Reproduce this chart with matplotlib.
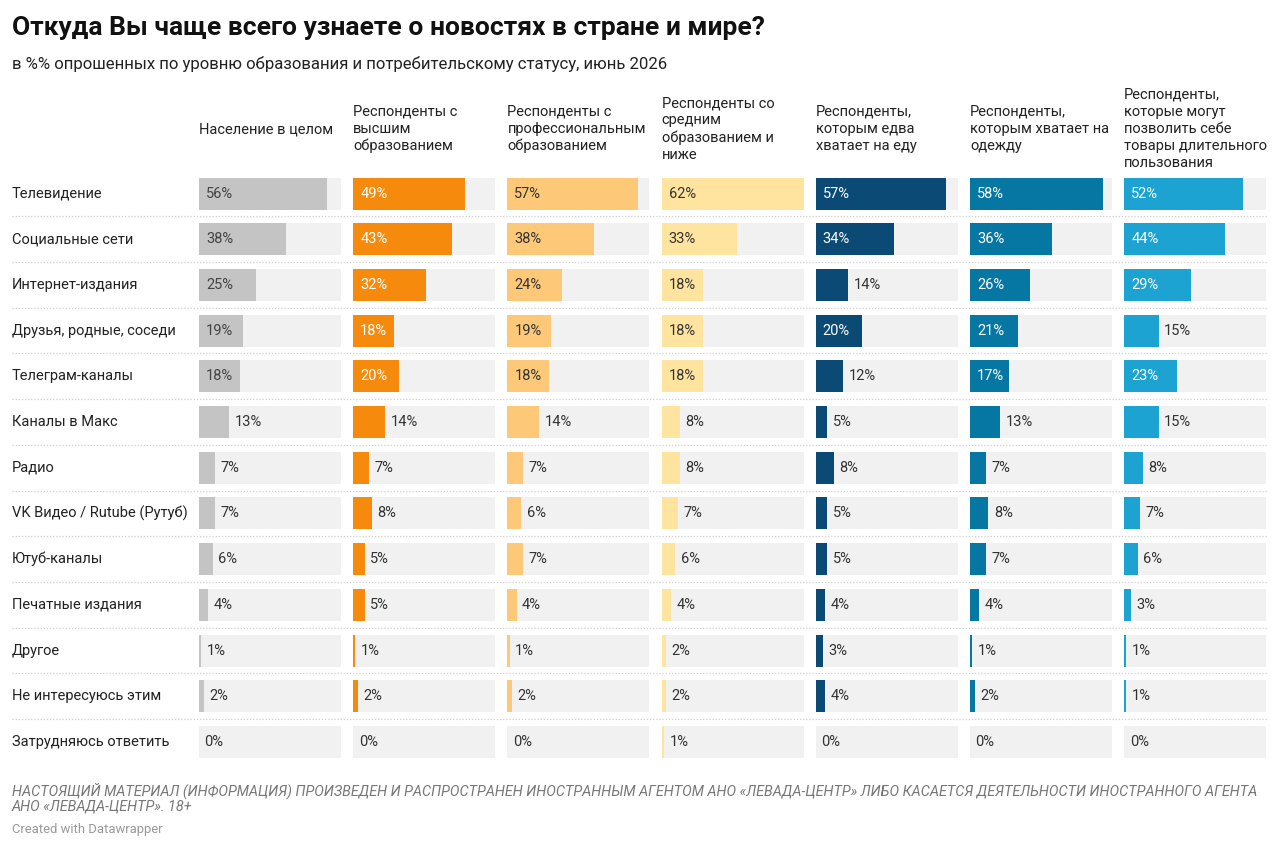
import numpy as np
import matplotlib
matplotlib.use("Agg")
import matplotlib.pyplot as plt

plt.rcParams["font.family"] = ["Roboto", "DejaVu Sans"]

# ---------------------------------------------------------
# DATA
# ---------------------------------------------------------
sources = [
    "Телевидение", "Социальные сети", "Интернет-издания",
    "Друзья, родные, соседи", "Телеграм-каналы", "Каналы в Макс",
    "Радио", "VK Видео / Rutube (Рутуб)", "Ютуб-каналы",
    "Печатные издания", "Другое", "Не интересуюсь этим",
    "Затрудняюсь ответить",
]

groups = [
    "Население в целом",
    "Респонденты с\nвысшим\nобразованием",
    "Респонденты с\nпрофессиональным\nобразованием",
    "Респонденты со\nсредним\nобразованием и\nниже",
    "Респонденты,\nкоторым едва\nхватает на еду",
    "Респонденты,\nкоторым хватает на\nодежду",
    "Респонденты,\nкоторые могут\nпозволить себе\nтовары длительного\nпользования",
]

population = [56, 38, 25, 19, 18, 13, 7, 7, 6, 4, 1, 2, 0]
higher_edu = [49, 43, 32, 18, 20, 14, 7, 8, 5, 5, 1, 2, 0]
prof_edu = [57, 38, 24, 19, 18, 14, 7, 6, 7, 4, 1, 2, 0]
secondary_edu = [62, 33, 18, 18, 18, 8, 8, 7, 6, 4, 2, 2, 1]
food_only = [57, 34, 14, 20, 12, 5, 8, 5, 5, 4, 3, 4, 0]
clothes = [58, 36, 26, 21, 17, 13, 7, 8, 7, 4, 1, 2, 0]
durables = [52, 44, 29, 15, 23, 15, 8, 7, 6, 3, 1, 1, 0]

series = [population, higher_edu, prof_edu, secondary_edu,
          food_only, clothes, durables]

colors = ["#c4c4c4", "#f68a0c", "#fdc979", "#fee49f",
          "#0a4a75", "#0677a3", "#1ca3d1"]
inside_text = ["#444444", "#ffffff", "#333333", "#333333",
               "#ffffff", "#ffffff", "#ffffff"]

MAX_VAL = 62
INSIDE_MIN = 16

# ---------------------------------------------------------
# LAYOUT (pixels of a 1280x850 canvas)
# ---------------------------------------------------------
W, H = 1280, 850
fig = plt.figure(figsize=(W / 100, H / 100), dpi=100)
fig.patch.set_facecolor("white")

n = len(sources)
row_top, row_bottom = 193.5, 742
pitch = (row_bottom - row_top) / (n - 1)
y_top = row_top - pitch / 2
y_bot = row_bottom + pitch / 2

col_x0 = 199
col_pitch = 154.2
col_w = 142


def fx(px):
    return px / W


def fy(py):
    return 1 - py / H


# background axes: separators and row labels
ax_bg = fig.add_axes([fx(12), fy(y_bot), fx(1267 - 12), (y_bot - y_top) / H])
ax_bg.set_xlim(0, 1)
ax_bg.set_ylim(n - 0.5, -0.5)
ax_bg.axis("off")
for i in range(n - 1):
    ax_bg.axhline(i + 0.5, color="#d0d0d0", linewidth=0.9,
                  linestyle=(0, (1, 1.5)))
for i, name in enumerate(sources):
    ax_bg.text(0, i, name, fontsize=10.5, color="#222222",
               va="center", ha="left")

bar_h = 32 / pitch
y = np.arange(n)

for c, values in enumerate(series):
    x0 = col_x0 + c * col_pitch
    ax = fig.add_axes([fx(x0), fy(y_bot), col_w / W, (y_bot - y_top) / H])
    ax.set_xlim(0, MAX_VAL)
    ax.set_ylim(n - 0.5, -0.5)
    ax.axis("off")

    ax.barh(y, [MAX_VAL] * n, height=bar_h, color="#f1f1f1", linewidth=0)
    ax.barh(y, values, height=bar_h, color=colors[c], linewidth=0)

    for i, v in enumerate(values):
        if v >= INSIDE_MIN:
            ax.annotate(f"{v}%", (0, i), xytext=(5, 0),
                        textcoords="offset points", va="center", ha="left",
                        fontsize=10.5, color=inside_text[c])
        else:
            ax.annotate(f"{v}%", (v, i), xytext=(4, 0),
                        textcoords="offset points", va="center", ha="left",
                        fontsize=10.5, color="#333333")

    fig.text(fx(x0), fy(129), groups[c], fontsize=10.5, color="#222222",
             va="center", ha="left", linespacing=1.28)

# ---------------------------------------------------------
# TITLES AND FOOTER
# ---------------------------------------------------------
fig.text(fx(12), fy(28), "Откуда Вы чаще всего узнаете о новостях в стране и мире?",
         fontsize=19, fontweight="bold", color="#111111", va="center")
fig.text(fx(12), fy(64),
         "в %% опрошенных по уровню образования и потребительскому статусу, июнь 2026",
         fontsize=12.1, color="#222222", va="center")

fig.text(fx(12), fy(798),
         "НАСТОЯЩИЙ МАТЕРИАЛ (ИНФОРМАЦИЯ) ПРОИЗВЕДЕН И РАСПРОСТРАНЕН ИНОСТРАННЫМ АГЕНТОМ "
         "АНО «ЛЕВАДА-ЦЕНТР» ЛИБО КАСАЕТСЯ ДЕЯТЕЛЬНОСТИ ИНОСТРАННОГО АГЕНТА\n"
         "АНО «ЛЕВАДА-ЦЕНТР». 18+",
         fontsize=10.4, fontstyle="italic", color="#777777", va="center",
         linespacing=1.1)
fig.text(fx(12), fy(830), "Created with Datawrapper",
         fontsize=9.4, color="#999999", va="center")

fig.savefig("out.png", dpi=100, facecolor="white")
plt.close(fig)
